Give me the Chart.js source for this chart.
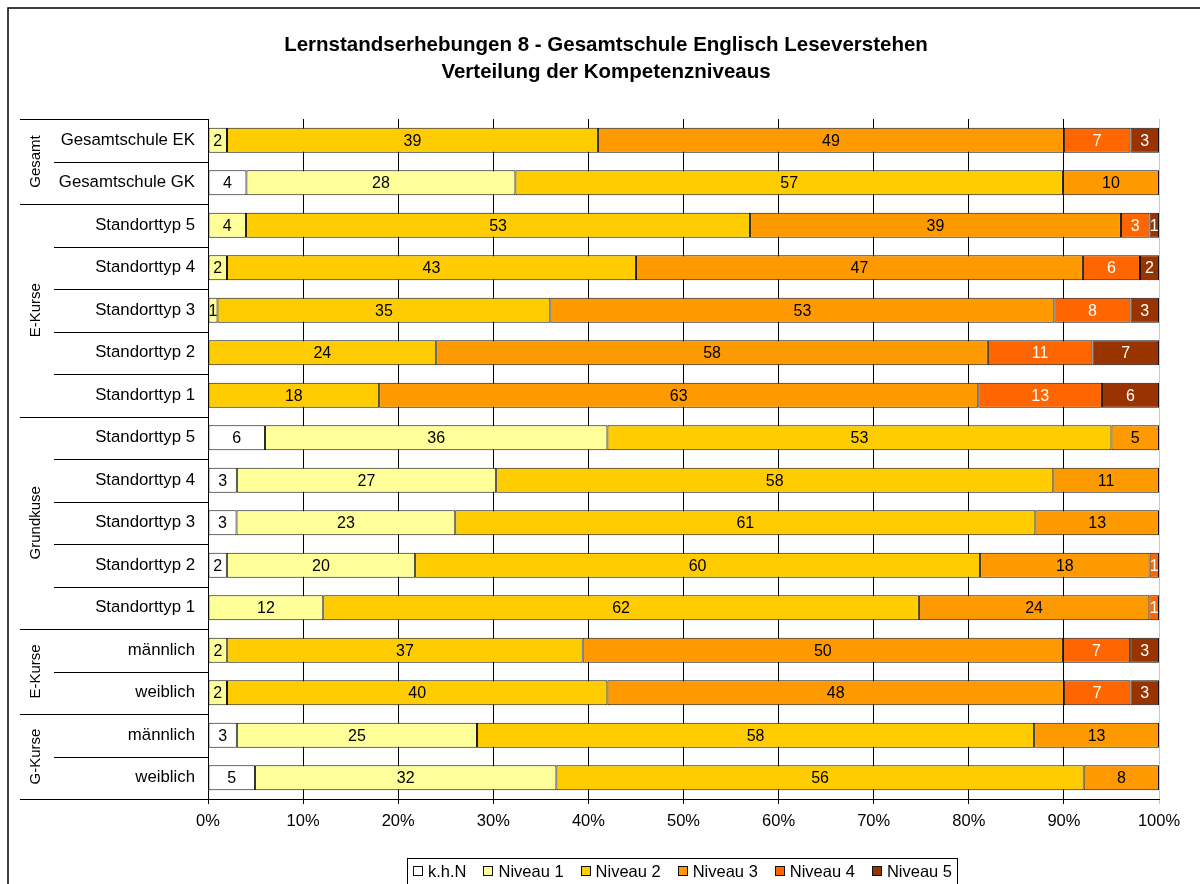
<!DOCTYPE html>
<html>
<head>
<meta charset="utf-8">
<script src="https://cdn.jsdelivr.net/npm/chart.js@4.4.0/dist/chart.umd.min.js"></script>
<style>
  body { margin: 0; background: #fff; }
</style>
</head>
<body>
<canvas id="lsechart" width="1200" height="884"></canvas>
<script>
var FONT = "'Liberation Sans', Arial, sans-serif";

var categories = ['Gesamtschule EK', 'Gesamtschule GK',
    'Standorttyp 5', 'Standorttyp 4', 'Standorttyp 3', 'Standorttyp 2', 'Standorttyp 1',
    'Standorttyp 5', 'Standorttyp 4', 'Standorttyp 3', 'Standorttyp 2', 'Standorttyp 1',
    'männlich', 'weiblich', 'männlich', 'weiblich'];

var groupLabels = ['Gesamt', 'E-Kurse', 'Grundkuse', 'E-Kurse', 'G-Kurse'];
var groupSizes = [2, 5, 5, 2, 2];

var seriesNames = ['k.h.N', 'Niveau 1', 'Niveau 2', 'Niveau 3', 'Niveau 4', 'Niveau 5'];

var khN    = [0, 4, 0, 0, 0, 0, 0, 6, 3, 3, 2, 0, 0, 0, 3, 5];
var niv1   = [2, 28, 4, 2, 1, 0, 0, 36, 27, 23, 20, 12, 2, 2, 25, 32];
var niv2   = [39, 57, 53, 43, 35, 24, 18, 53, 58, 61, 60, 62, 37, 40, 58, 56];
var niv3   = [49, 10, 39, 47, 53, 58, 63, 5, 11, 13, 18, 24, 50, 48, 13, 8];
var niv4   = [7, 0, 3, 6, 8, 11, 13, 0, 0, 0, 1, 1, 7, 7, 0, 0];
var niv5   = [3, 0, 1, 2, 3, 7, 6, 0, 0, 0, 0, 0, 3, 3, 0, 0];

var xTicks = [0, 10, 20, 30, 40, 50, 60, 70, 80, 90, 100];

var colors = ['#ffffff', '#ffff99', '#ffcc00', '#ff9900', '#ff6600', '#993300'];
var labelColors = ['#000', '#000', '#000', '#000', '#fff', '#fff'];

var rawSeries = [khN, niv1, niv2, niv3, niv4, niv5];

// like Excel's 100% stacked bars: every row is scaled to its own total
function rowTotals() {
    var totals = [];
    for (var i = 0; i < categories.length; i++) {
        var sum = 0;
        for (var s = 0; s < rawSeries.length; s++) sum += rawSeries[s][i];
        totals.push(sum);
    }
    return totals;
}

function buildDatasets() {
    var totals = rowTotals();
    return rawSeries.map(function (values, s) {
        return {
            label: seriesNames[s],
            raw: values,
            data: values.map(function (v, i) { return v / totals[i] * 100; }),
            backgroundColor: colors[s],
            borderColor: '#111',
            borderWidth: 1,
            borderSkipped: false,
            barPercentage: 0.59,
            categoryPercentage: 1.0
        };
    });
}

var decorations = {
    id: 'decorations',
    afterDatasetsDraw: function (chart) {
        var ctx = chart.ctx;
        ctx.save();
        ctx.font = '16px ' + FONT;
        ctx.textAlign = 'center';
        ctx.textBaseline = 'middle';
        chart.data.datasets.forEach(function (ds, s) {
            var meta = chart.getDatasetMeta(s);
            meta.data.forEach(function (bar, i) {
                var v = ds.raw[i];
                if (!v) return;
                var cx = (bar.x + bar.base) / 2;
                ctx.fillStyle = labelColors[s];
                ctx.fillText(String(v), cx, bar.y + 1);
            });
        });
        ctx.restore();
    },
    afterDraw: function (chart) {
        var ctx = chart.ctx;
        var area = chart.chartArea;
        ctx.save();

        // outer frame
        ctx.strokeStyle = '#000';
        ctx.lineWidth = 1.5;
        ctx.beginPath();
        ctx.moveTo(8, 884);
        ctx.lineTo(8, 8);
        ctx.lineTo(1200, 8);
        ctx.stroke();

        // title
        ctx.fillStyle = '#000';
        ctx.font = 'bold 20.5px ' + FONT;
        ctx.textAlign = 'center';
        ctx.textBaseline = 'middle';
        ctx.fillText('Lernstandserhebungen 8 - Gesamtschule Englisch Leseverstehen', 606, 45);
        ctx.fillText('Verteilung der Kompetenzniveaus', 606, 72);

        // category separators and group labels
        var step = (area.bottom - area.top) / categories.length;
        ctx.lineWidth = 1;
        ctx.strokeStyle = '#000';
        var row = 0;
        var boundaries = { 0: true };
        groupSizes.forEach(function (n) { row += n; boundaries[row] = true; });
        for (var i = 0; i <= categories.length; i++) {
            var y = Math.round(area.top + i * step) + 0.5;
            ctx.beginPath();
            ctx.moveTo(boundaries[i] ? 20 : 54, y);
            ctx.lineTo(area.left, y);
            ctx.stroke();
        }
        ctx.font = '15px ' + FONT;
        var start = 0;
        groupSizes.forEach(function (n, g) {
            var cy = area.top + (start + n / 2) * step;
            ctx.save();
            ctx.translate(36, cy);
            ctx.rotate(-Math.PI / 2);
            ctx.fillText(groupLabels[g], 0, 0);
            ctx.restore();
            start += n;
        });

        // legend
        var box = { x: 407, y: 858, w: 550, h: 40 };
        ctx.strokeRect(box.x + 0.5, box.y + 0.5, box.w, box.h);
        ctx.font = '16.5px ' + FONT;
        ctx.textAlign = 'left';
        var sq = 10, sqGap = 5;
        var textW = chart.data.datasets.map(function (ds) { return ctx.measureText(ds.label).width; });
        var used = 0;
        textW.forEach(function (w) { used += sq + sqGap + w; });
        var gap = (952 - 413 - used) / (textW.length - 1);
        var x = 413;
        chart.data.datasets.forEach(function (ds, s) {
            var bx = Math.round(x);
            ctx.fillStyle = ds.backgroundColor;
            ctx.fillRect(bx, 866, sq, sq);
            ctx.strokeStyle = '#111';
            ctx.strokeRect(bx + 0.5, 866.5, sq - 1, sq - 1);
            ctx.fillStyle = '#000';
            ctx.fillText(ds.label, x + sq + sqGap, 872);
            x += sq + sqGap + textW[s] + gap;
        });

        ctx.restore();
    }
};

var ctx = document.getElementById('lsechart').getContext('2d');
var chart = new Chart(ctx, {
    type: 'bar',
    data: {
        labels: categories,
        datasets: buildDatasets()
    },
    options: {
        indexAxis: 'y',
        responsive: false,
        animation: false,
        layout: { padding: { left: 8, right: 41, top: 119, bottom: 55 } },
        plugins: {
            legend: { display: false },
            title: { display: false },
            tooltip: { enabled: false }
        },
        scales: {
            x: {
                stacked: true,
                min: 0,
                max: 100,
                afterFit: function (scale) { scale.height = 30; },
                afterBuildTicks: function (scale) {
                    scale.ticks = xTicks.map(function (v) { return { value: v }; });
                },
                ticks: {
                    color: '#000',
                    font: { family: FONT, size: 16.5 },
                    padding: 8,
                    maxRotation: 0,
                    callback: function (v) { return v + '%'; }
                },
                grid: {
                    color: function (c) { return c.tick && c.tick.value === 100 ? '#c8c8c8' : '#000'; },
                    tickLength: 5,
                    lineWidth: 1
                },
                border: { display: true, color: '#000' }
            },
            y: {
                stacked: true,
                afterFit: function (scale) { scale.width = 200; },
                ticks: {
                    color: '#000',
                    font: { family: FONT, size: 16.8 },
                    padding: 13,
                    autoSkip: false
                },
                grid: { display: false, drawTicks: false },
                border: { display: false }
            }
        }
    },
    plugins: [decorations]
});
</script>
</body>
</html>
